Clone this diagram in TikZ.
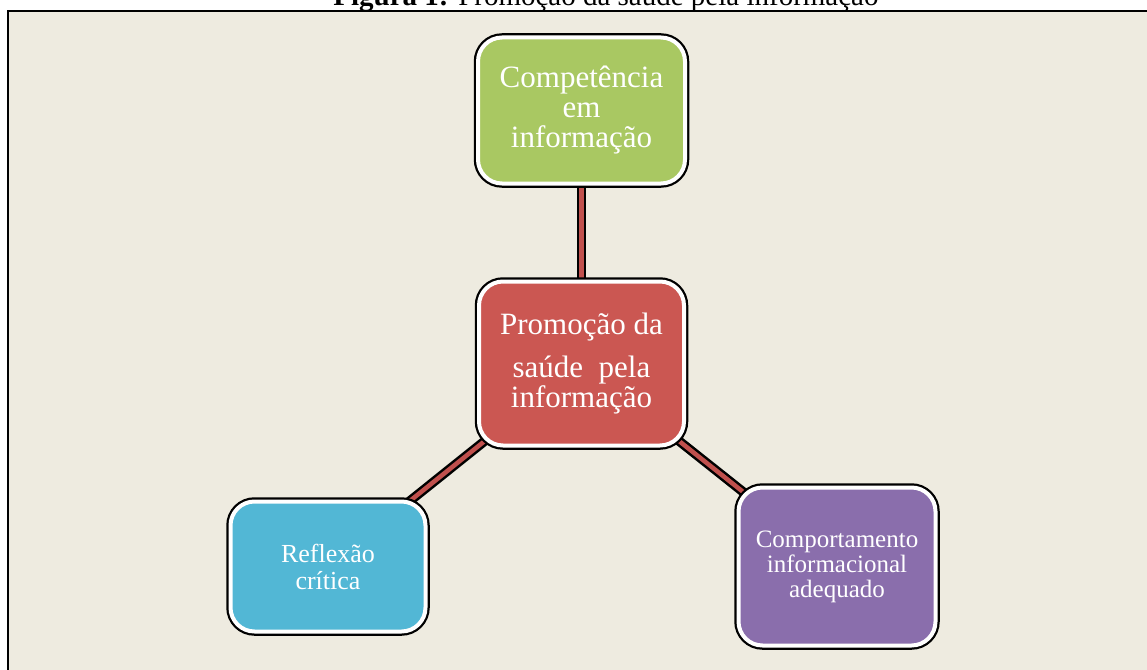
\documentclass[tikz,border=0pt]{standalone}
\usepackage{fontspec}
\setmainfont{Liberation Serif}
\usetikzlibrary{backgrounds}
\definecolor{bgbeige}{HTML}{EEEBE0}
\definecolor{boxgreen}{RGB}{169,200,98}
\definecolor{boxred}{RGB}{203,87,82}
\definecolor{boxblue}{RGB}{82,183,213}
\definecolor{boxpurple}{RGB}{138,110,172}
\definecolor{connred}{RGB}{192,80,77}
\begin{document}
\begin{tikzpicture}[x=1pt,y=-1pt,
  box/.style={rectangle, rounded corners=24pt, inner sep=0pt, outer sep=4.5pt,
    align=center, text=white,
    preaction={draw=black, line width=8.5pt},
    draw=white, line width=4pt},
  conn/.style={draw=black, line width=2.5pt, double=connred, double distance=4.5pt},
  titlefont/.style={font=\fontsize{29}{30}\selectfont}
]
\useasboundingbox (0,0) rectangle (1147,669);

\node[titlefont, anchor=base] (title) at (606,6) {\textbf{Figura 1:} Promoção da saúde pela informação};

\node[box, fill=boxgreen, minimum width=207pt, minimum height=146pt,
  font=\fontsize{31}{30}\selectfont] (g) at (581.5,110.5)
  {Competência\\em\\informação};
\node[box, fill=boxred, minimum width=205pt, minimum height=164pt,
  font=\fontsize{31}{30}\selectfont] (c) at (581.5,363.5)
  {Promoção da\\[13pt]saúde\ \ pela\\informação};
\node[box, fill=boxblue, minimum width=195pt, minimum height=130pt,
  font=\fontsize{26}{27}\selectfont] (b) at (328,566.5)
  {Reflexão\\crítica};
\node[box, fill=boxpurple, minimum width=197pt, minimum height=158pt,
  font=\fontsize{25}{25}\selectfont] (p) at (837,566.5)
  {Comportamento\\informacional\\adequado};

\begin{pgfonlayer}{background}
  \fill[white] (0,0) rectangle (1147,669);
  \begin{scope}
    \clip (0,0) rectangle (1147,669);
    \draw[fill=bgbeige, draw=black, line width=2pt] (8,11) rectangle (1160,680);
  \end{scope}
  \draw[conn] (c.center) -- (g.center);
  \draw[conn] (c.center) -- (b.center);
  \draw[conn] (c.center) -- (p.center);
\end{pgfonlayer}
\end{tikzpicture}
\end{document}
